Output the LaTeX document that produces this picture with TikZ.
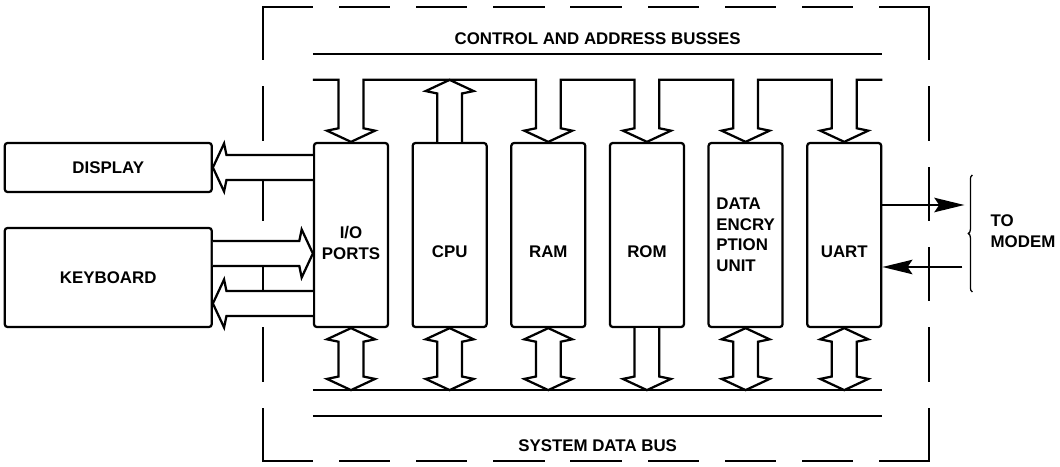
\documentclass[tikz,border=0pt]{standalone}
\usepackage{fontspec}
\setmainfont{Liberation Sans}
\usetikzlibrary{positioning, arrows.meta, calc, decorations.pathreplacing}

\begin{document}
\begin{tikzpicture}[
    node distance=0.56cm,
    lbl/.style={font=\bfseries\fontsize{12}{14.6}\selectfont, inner sep=0pt},
    unit/.style={
        rectangle, draw=black, line width=1.6pt, rounded corners=2pt,
        minimum width=1.85cm, minimum height=4.6cm, inner sep=0pt
    },
    device/.style={
        lbl, rectangle, draw=black, line width=1.6pt, rounded corners=2pt,
        minimum width=5.175cm
    },
    bus/.style={line width=1.6pt},
    busarrow/.style={line width=1.6pt, fill=white, line join=miter},
    sysedge/.style={line width=1.5pt, line cap=rect, dash pattern=on #1 off 0.7cm},
    sig/.style={line width=1.5pt, -{Stealth[length=0.75cm, width=0.36cm, inset=0.12cm]}},
    brace/.style={line width=0.9pt, decorate, decoration={brace, amplitude=0.1cm}}
]
\useasboundingbox (0,0) rectangle (26.5,-11.675);

% system boundary
\coordinate (sysNW) at (6.575,-0.175);
\coordinate (sysNE) at (23.225,-0.175);
\coordinate (sysSE) at (23.225,-11.525);
\coordinate (sysSW) at (6.575,-11.525);
\draw[sysedge=1.228cm] (sysNW) -- (sysNE);
\draw[sysedge=1.228cm] (sysSW) -- (sysSE);
\draw[sysedge=1.308cm] (sysNW) -- (sysSW);
\draw[sysedge=1.308cm] (sysNE) -- (sysSE);

% units on the busses
\node[unit, label={[lbl, align=center, yshift=-0.2cm]center:I/O\\PORTS}] (io) at (8.775,-5.875) {};
\node[unit, right=of io, label={[lbl, yshift=-0.42cm]center:CPU}] (cpu) {};
\node[unit, right=of cpu, label={[lbl, yshift=-0.42cm]center:RAM}] (ram) {};
\node[unit, right=of ram, label={[lbl, yshift=-0.42cm]center:ROM}] (rom) {};
\node[unit, right=of rom, label={[lbl, align=left]center:DATA\\ENCRY\\PTION\\UNIT}] (deu) {};
\node[unit, right=of deu, label={[lbl, yshift=-0.42cm]center:UART}] (uart) {};

% peripherals
\node[device, minimum height=1.225cm, anchor=north east] (display) at ([xshift=-2.5cm]io.north west) {DISPLAY};
\node[device, minimum height=2.475cm, anchor=south east] (keyboard) at ([xshift=-2.5cm]io.south west) {KEYBOARD};

% control and address busses
\draw[bus] ([yshift=2.2cm]io.north west) -- ([yshift=2.2cm]uart.north east)
    node[lbl, midway, above=0.2cm] (ctrlLbl) {CONTROL AND ADDRESS BUSSES};
\draw[bus] ([yshift=1.55cm]io.north west)
    foreach \u in {io,ram,rom,deu,uart} {
        -- ([shift={(-0.31,1.55)}]\u.north) -- ([shift={(-0.31,0.34)}]\u.north)
        -- ([shift={(-0.6,0.28)}]\u.north) -- (\u.north)
        -- ([shift={(0.6,0.28)}]\u.north) -- ([shift={(0.31,0.34)}]\u.north)
        -- ([shift={(0.31,1.55)}]\u.north)
    } -- ([yshift=1.55cm]uart.north east);
\draw[busarrow] ([xshift=-0.31cm]cpu.north) -- ([shift={(-0.31,1.21)}]cpu.north)
    -- ([shift={(-0.6,1.27)}]cpu.north) -- ([yshift=1.55cm]cpu.north)
    -- ([shift={(0.6,1.27)}]cpu.north) -- ([shift={(0.31,1.21)}]cpu.north)
    -- ([xshift=0.31cm]cpu.north);

% system data bus
\draw[bus] ([yshift=-1.55cm]io.south west) -- ([yshift=-1.55cm]uart.south east);
\draw[bus] ([yshift=-2.2cm]io.south west) -- ([yshift=-2.2cm]uart.south east)
    node[lbl, midway, below=0.55cm] (sysLbl) {SYSTEM DATA BUS};
\foreach \u in {io,cpu,ram,deu,uart}
    \draw[busarrow] (\u.south) -- ++(-0.6,-0.28) -- ++(0.29,-0.06) -- ++(0,-0.87)
        -- ++(-0.29,-0.06) -- ++(0.6,-0.28) -- ++(0.6,0.28) -- ++(-0.29,0.06)
        -- ++(0,0.87) -- ++(0.29,0.06) -- cycle;
\draw[busarrow] ([xshift=-0.31cm]rom.south) -- ([shift={(-0.31,-1.21)}]rom.south)
    -- ([shift={(-0.6,-1.27)}]rom.south) -- ([yshift=-1.55cm]rom.south)
    -- ([shift={(0.6,-1.27)}]rom.south) -- ([shift={(0.31,-1.21)}]rom.south)
    -- ([xshift=0.31cm]rom.south);

% display and keyboard links
\coordinate (ioDisp) at (io.west |- display.east);
\coordinate (kbIn) at ([yshift=0.6cm]keyboard.east);
\coordinate (kbOut) at ([yshift=-0.65cm]keyboard.east);
\coordinate (ioIn) at (io.west |- kbIn);
\coordinate (ioOut) at (io.west |- kbOut);

\draw[busarrow] ([yshift=0.31cm]ioDisp) -- ([shift={(0.34,0.31)}]display.east)
    -- ([shift={(0.28,0.6)}]display.east) -- (display.east)
    -- ([shift={(0.28,-0.6)}]display.east) -- ([shift={(0.34,-0.31)}]display.east)
    -- ([yshift=-0.31cm]ioDisp);
\draw[busarrow] ([yshift=0.31cm]kbIn) -- ([shift={(-0.34,0.31)}]ioIn)
    -- ([shift={(-0.28,0.6)}]ioIn) -- (ioIn)
    -- ([shift={(-0.28,-0.6)}]ioIn) -- ([shift={(-0.34,-0.31)}]ioIn)
    -- ([yshift=-0.31cm]kbIn);
\draw[busarrow] ([yshift=0.31cm]ioOut) -- ([shift={(0.34,0.31)}]kbOut)
    -- ([shift={(0.28,0.6)}]kbOut) -- (kbOut)
    -- ([shift={(0.28,-0.6)}]kbOut) -- ([shift={(0.34,-0.31)}]kbOut)
    -- ([yshift=-0.31cm]ioOut);

% modem side
\coordinate (modemTx) at ([shift={(2.05,0.75)}]uart.east);
\coordinate (modemRx) at ([shift={(2.0,-0.8)}]uart.east);
\draw[sig] (uart.east |- modemTx) -- (modemTx);
\draw[sig] (modemRx) -- (uart.east |- modemRx);
\draw[brace] ([shift={(2.25,-1.425)}]uart.east) -- ([shift={(2.25,1.5)}]uart.east);
\node[lbl, align=left, anchor=west] (modem) at ([shift={(2.7,0.1)}]uart.east) {TO\\MODEM};

\end{tikzpicture}
\end{document}
